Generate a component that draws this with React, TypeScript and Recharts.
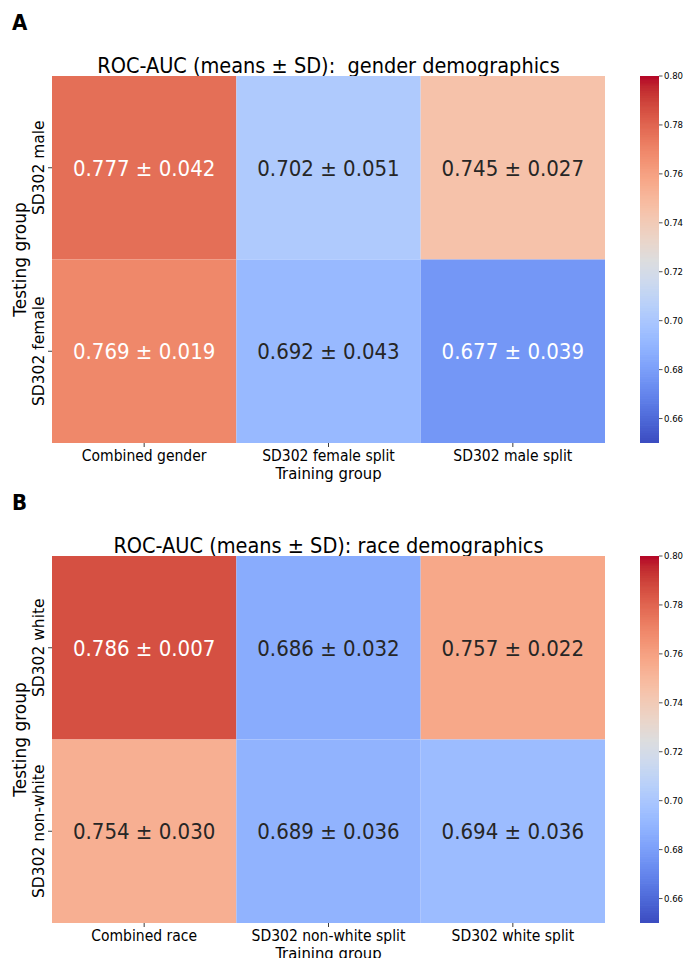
import React from 'react';
import { ComposedChart, XAxis, YAxis, ReferenceArea, Scatter } from 'recharts';

// ---------- data ----------
const genderTrain = ['Combined gender', 'SD302 female split', 'SD302 male split'];
const genderTest = ['SD302 male', 'SD302 female'];
const genderMaleMeans = [0.777, 0.702, 0.745];
const genderMaleSDs = [0.042, 0.051, 0.027];
const genderFemaleMeans = [0.769, 0.692, 0.677];
const genderFemaleSDs = [0.019, 0.043, 0.039];

const raceTrain = ['Combined race', 'SD302 non-white split', 'SD302 white split'];
const raceTest = ['SD302 white', 'SD302 non-white'];
const raceWhiteMeans = [0.786, 0.686, 0.757];
const raceWhiteSDs = [0.007, 0.032, 0.022];
const raceNonWhiteMeans = [0.754, 0.689, 0.694];
const raceNonWhiteSDs = [0.03, 0.036, 0.036];

const colorbarTicks = [0.66, 0.68, 0.7, 0.72, 0.74, 0.76, 0.78, 0.8];
const VMIN = 0.65;
const VMAX = 0.8;
const CB_STEPS = 150;

// coolwarm colormap control points
const coolwarmTable: number[][] = [
  [59, 76, 192], [68, 90, 204], [77, 104, 215], [87, 117, 225], [98, 130, 234],
  [108, 142, 241], [119, 154, 247], [130, 165, 251], [141, 176, 254], [152, 185, 255],
  [163, 194, 255], [174, 201, 253], [184, 208, 249], [194, 213, 244], [204, 217, 238],
  [213, 219, 230], [221, 221, 221], [229, 216, 209], [236, 211, 197], [241, 204, 185],
  [245, 196, 173], [247, 187, 160], [247, 177, 148], [247, 166, 135], [244, 154, 123],
  [241, 141, 111], [236, 127, 99], [229, 112, 88], [222, 96, 77], [213, 80, 66],
  [203, 62, 56], [192, 40, 47], [180, 4, 38],
];

function coolwarmRGB(t: number): number[] {
  const tt = Math.max(0, Math.min(1, t)) * (coolwarmTable.length - 1);
  const i = Math.min(Math.floor(tt), coolwarmTable.length - 2);
  const f = tt - i;
  const a = coolwarmTable[i];
  const b = coolwarmTable[i + 1];
  return [0, 1, 2].map((k) => a[k] + (b[k] - a[k]) * f);
}
function rgbStr(c: number[]) {
  return `rgb(${Math.round(c[0])},${Math.round(c[1])},${Math.round(c[2])})`;
}
function valueColor(v: number) {
  return rgbStr(coolwarmRGB((v - VMIN) / (VMAX - VMIN)));
}
function textColor(v: number) {
  const c = coolwarmRGB((v - VMIN) / (VMAX - VMIN)).map((x) => {
    const s = x / 255;
    return s <= 0.03928 ? s / 12.92 : Math.pow((s + 0.055) / 1.055, 2.4);
  });
  const lum = 0.2126 * c[0] + 0.7152 * c[1] + 0.0722 * c[2];
  return lum > 0.408 ? '#262626' : '#ffffff';
}

const FONT = '"DejaVu Sans Condensed", "DejaVu Sans", sans-serif';
const FONT_REG = '"DejaVu Sans", sans-serif';

type PanelProps = {
  top: number;
  letter: string;
  title: string;
  train: string[];
  test: string[];
  means: number[][];
  sds: number[][];
};

const EmptyShape = () => <g />;

function Panel({ top, letter, title, train, test, means, sds }: PanelProps) {
  const cells = means.flatMap((row, j) =>
    row.map((v, i) => ({ x1: i, x2: i + 1, y1: j, y2: j + 1, cx: i + 0.5, cy: j + 0.5, v, sd: sds[j][i] }))
  );
  const xTicks = train.map((_, i) => i + 0.5);
  const yTicks = test.map((_, j) => j + 0.5);
  const cbStep = (VMAX - VMIN) / CB_STEPS;
  const cbSlices = Array.from({ length: CB_STEPS }, (_, k) => VMIN + k * cbStep);
  const cbAnchors = [
    { x: 0, y: VMIN },
    { x: 1, y: VMAX },
  ];

  const XTick = (props: any) => {
    const { x, y, payload } = props;
    const name = train[Math.floor(payload.value)];
    return (
      <text x={x} y={y} dy={12} textAnchor="middle" fontFamily={FONT} fontStretch="condensed" fontSize={15.5} fill="#000">
        {name}
      </text>
    );
  };
  const YTick = (props: any) => {
    const { x, y, payload } = props;
    const name = test[Math.floor(payload.value)];
    const bx = x - 2;
    return (
      <text x={bx} y={y} transform={`rotate(-90, ${bx}, ${y})`} textAnchor="middle" fontFamily={FONT_REG} fontSize={15.5} fill="#000">
        {name}
      </text>
    );
  };
  const XLabel = (props: any) => {
    const vb = props.viewBox;
    return (
      <text x={vb.x + vb.width / 2} y={vb.y + 35.5} textAnchor="middle" fontFamily={FONT} fontStretch="condensed" fontSize={16.5} fill="#000">
        Training group
      </text>
    );
  };
  const YLabel = (props: any) => {
    const vb = props.viewBox;
    const bx = vb.x + 26;
    const by = vb.y + vb.height / 2;
    return (
      <text x={bx} y={by} transform={`rotate(-90, ${bx}, ${by})`} textAnchor="middle" fontFamily={FONT_REG} fontSize={17} fill="#000">
        Testing group
      </text>
    );
  };
  const CellLabel = (props: any) => {
    const { cx, cy, payload } = props;
    return (
      <text x={cx} y={cy} dy="0.36em" textAnchor="middle" fontFamily={FONT} fontStretch="condensed" fontSize={22} fill={textColor(payload.v)}>
        {`${payload.v.toFixed(3)} ± ${payload.sd.toFixed(3)}`}
      </text>
    );
  };

  return (
    <div style={{ position: 'absolute', left: 0, top, width: 685, height: 480 }}>
      <svg width={685} height={80} style={{ position: 'absolute', left: 0, top: 0 }}>
        <text x={12} y={30} fontFamily={FONT} fontStretch="condensed" fontWeight="bold" fontSize={22} fill="#000">
          {letter}
        </text>
        <text x={328.5} y={73} textAnchor="middle" fontFamily={FONT} fontStretch="condensed" fontSize={21.5} fill="#000" style={{ whiteSpace: 'pre' }}>
          {title}
        </text>
      </svg>
      <div style={{ position: 'absolute', left: 0, top: 0 }}>
        <ComposedChart width={620} height={492} margin={{ top: 76, right: 15, bottom: 12, left: 0 }}>
          <XAxis
            type="number"
            dataKey="cx"
            domain={[0, 3]}
            ticks={xTicks}
            interval={0}
            height={37}
            axisLine={false}
            tickLine={{ stroke: '#262626', strokeWidth: 0.9 }}
            tickSize={4}
            tickMargin={2}
            tick={XTick}
            label={{ content: XLabel }}
            allowDataOverflow
          />
          <YAxis
            type="number"
            dataKey="cy"
            domain={[0, 2]}
            reversed
            ticks={yTicks}
            interval={0}
            width={52}
            axisLine={false}
            tickLine={{ stroke: '#262626', strokeWidth: 0.9 }}
            tickSize={4}
            tickMargin={2}
            tick={YTick}
            label={{ content: YLabel }}
            allowDataOverflow
          />
          {cells.map((c, k) => (
            <ReferenceArea
              key={k}
              x1={c.x1}
              x2={c.x2}
              y1={c.y1}
              y2={c.y2}
              fill={valueColor(c.v)}
              fillOpacity={1}
              stroke="none"
              ifOverflow="visible"
            />
          ))}
          <Scatter data={cells} dataKey="cy" shape={CellLabel} isAnimationActive={false} />
        </ComposedChart>
      </div>
      <div style={{ position: 'absolute', left: 620, top: 0 }}>
        <ComposedChart width={65} height={480} margin={{ top: 76, right: 0, bottom: 37, left: 20 }}>
          <XAxis type="number" dataKey="x" domain={[0, 1]} hide height={0} allowDataOverflow />
          <YAxis
            type="number"
            dataKey="y"
            orientation="right"
            domain={[VMIN, VMAX]}
            ticks={colorbarTicks}
            interval={0}
            width={26}
            axisLine={false}
            tickLine={{ stroke: '#262626', strokeWidth: 0.8 }}
            tickSize={3.5}
            tickMargin={1.5}
            tickFormatter={(v: number) => v.toFixed(2)}
            tick={{ fontFamily: FONT, fontStretch: 'condensed', fontSize: 9.5, fill: '#000' } as any}
            allowDataOverflow
          />
          {cbSlices.map((v, k) => (
            <ReferenceArea
              key={k}
              x1={0}
              x2={1}
              y1={v}
              y2={Math.min(VMAX, v + cbStep * 1.3)}
              fill={valueColor(v + cbStep / 2)}
              fillOpacity={1}
              stroke="none"
              ifOverflow="visible"
            />
          ))}
          <Scatter data={cbAnchors} dataKey="y" shape={EmptyShape} isAnimationActive={false} />
        </ComposedChart>
      </div>
    </div>
  );
}

export default function App() {
  return (
    <div style={{ position: 'absolute', left: 0, top: 0, width: 685, height: 958, background: '#fff', overflow: 'hidden' }}>
      <Panel
        top={0}
        letter="A"
        title={'ROC-AUC (means ± SD):  gender demographics'}
        train={genderTrain}
        test={genderTest}
        means={[genderMaleMeans, genderFemaleMeans]}
        sds={[genderMaleSDs, genderFemaleSDs]}
      />
      <Panel
        top={480}
        letter="B"
        title={'ROC-AUC (means ± SD): race demographics'}
        train={raceTrain}
        test={raceTest}
        means={[raceWhiteMeans, raceNonWhiteMeans]}
        sds={[raceWhiteSDs, raceNonWhiteSDs]}
      />
    </div>
  );
}
